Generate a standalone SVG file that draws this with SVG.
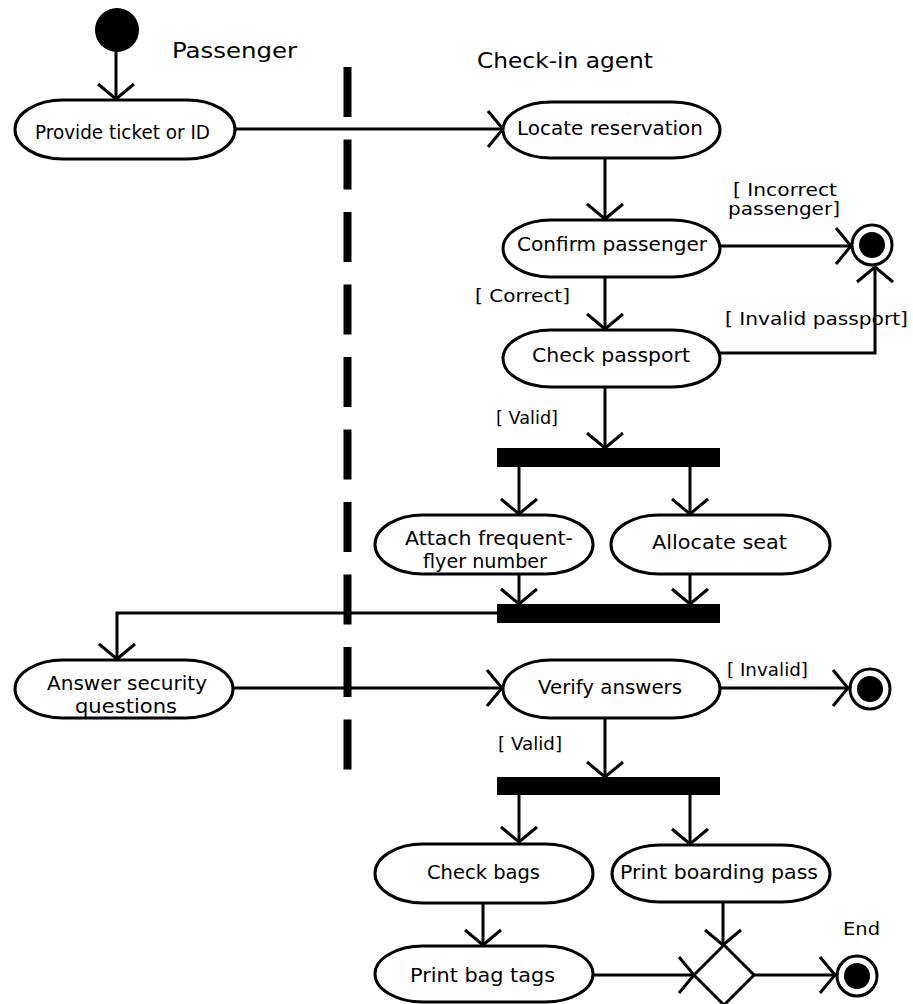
<svg xmlns="http://www.w3.org/2000/svg" width="913" height="1004" viewBox="0 0 913 1004">
<defs>
<style>
.node{fill:#fff;stroke:#000;stroke-width:3}
.t{font-family:"DejaVu Sans","Liberation Sans",sans-serif;font-size:20px;fill:#000}
.g{font-family:"DejaVu Sans","Liberation Sans",sans-serif;font-size:18px;fill:#000}
.h{font-family:"DejaVu Sans","Liberation Sans",sans-serif;font-size:21px;fill:#000}
.c{fill:none;stroke:#000;stroke-width:3;marker-end:url(#arr)}
.bar{fill:#000}
</style>
<marker id="arr" markerUnits="userSpaceOnUse" markerWidth="40" markerHeight="40" viewBox="-20 -20 40 40" refX="0" refY="0" orient="auto">
<path d="M-15,-18 L0,0 L-15,18" fill="none" stroke="#000" stroke-width="3"/>
</marker>
</defs>
<rect width="913" height="1004" fill="#fff"/>

<g id="swimlanes">
<line x1="347.5" y1="67" x2="347.5" y2="770" stroke="#000" stroke-width="8" stroke-dasharray="50 22.5"/>
<text class="h" x="172" y="58" textLength="125" lengthAdjust="spacingAndGlyphs">Passenger</text>
<text class="h" x="477" y="68" textLength="176" lengthAdjust="spacingAndGlyphs">Check-in agent</text>
</g>

<g id="connectors">
<line class="c" x1="116" y1="52" x2="116" y2="99"/>
<line class="c" x1="235" y1="129" x2="503" y2="129"/>
<line class="c" x1="605" y1="158" x2="605" y2="219"/>
<line class="c" x1="720" y1="246" x2="851" y2="246"/>
<line class="c" x1="605" y1="277" x2="605" y2="329"/>
<polyline class="c" points="720,353 875,353 875,267"/>
<line class="c" x1="605" y1="387" x2="605" y2="448"/>
<line class="c" x1="519" y1="467" x2="519" y2="514"/>
<line class="c" x1="690" y1="467" x2="690" y2="514"/>
<line class="c" x1="519" y1="574" x2="519" y2="604"/>
<line class="c" x1="690" y1="574" x2="690" y2="604"/>
<polyline class="c" points="497,613 117,613 117,659"/>
<line class="c" x1="233" y1="688" x2="502" y2="688"/>
<line class="c" x1="720" y1="688" x2="848" y2="688"/>
<line class="c" x1="605" y1="718" x2="605" y2="777"/>
<line class="c" x1="519" y1="795" x2="519" y2="842"/>
<line class="c" x1="690" y1="795" x2="690" y2="844"/>
<line class="c" x1="483" y1="903" x2="483" y2="945"/>
<line class="c" x1="723" y1="902" x2="723" y2="945"/>
<line class="c" x1="592" y1="975" x2="694" y2="975"/>
<line class="c" x1="754" y1="975" x2="835" y2="975"/>
<text class="g" x="733" y="196" textLength="104" lengthAdjust="spacingAndGlyphs">[ Incorrect</text>
<text class="g" x="728" y="215" textLength="112" lengthAdjust="spacingAndGlyphs">passenger]</text>
<text class="g" x="475" y="302" textLength="95" lengthAdjust="spacingAndGlyphs">[ Correct]</text>
<text class="g" x="725" y="325" textLength="183" lengthAdjust="spacingAndGlyphs">[ Invalid passport]</text>
<text class="g" x="496" y="424" textLength="62" lengthAdjust="spacingAndGlyphs">[ Valid]</text>
<text class="g" x="727" y="676" textLength="81" lengthAdjust="spacingAndGlyphs">[ Invalid]</text>
<text class="g" x="498" y="750" textLength="64" lengthAdjust="spacingAndGlyphs">[ Valid]</text>
</g>

<g id="start">
<circle cx="117" cy="30" r="22" fill="#000"/>
</g>

<g id="provide-ticket">
<rect class="node" x="15" y="100" width="220" height="59" rx="48" ry="29.5"/>
<text class="t" x="35" y="139" textLength="175" lengthAdjust="spacingAndGlyphs">Provide ticket or ID</text>
</g>

<g id="locate-reservation">
<rect class="node" x="503" y="102" width="217" height="56" rx="48" ry="28"/>
<text class="t" x="517" y="135" textLength="186" lengthAdjust="spacingAndGlyphs">Locate reservation</text>
</g>

<g id="confirm-passenger">
<rect class="node" x="503" y="220" width="217" height="57" rx="48" ry="28.5"/>
<text class="t" x="517" y="251" textLength="190" lengthAdjust="spacingAndGlyphs">Confirm passenger</text>
</g>

<g id="final-1">
<circle cx="872" cy="245" r="20" fill="#fff" stroke="#000" stroke-width="3"/>
<circle cx="872" cy="245" r="13" fill="#000"/>
</g>

<g id="check-passport">
<rect class="node" x="503" y="330" width="217" height="57" rx="48" ry="28.5"/>
<text class="t" x="532" y="362" textLength="158" lengthAdjust="spacingAndGlyphs">Check passport</text>
</g>

<g id="fork-1">
<rect class="bar" x="497" y="448" width="223" height="19"/>
</g>

<g id="attach-ff">
<rect class="node" x="375" y="515" width="218" height="59" rx="48" ry="29.5"/>
<text class="t" x="405" y="545" textLength="168" lengthAdjust="spacingAndGlyphs">Attach frequent-</text>
<text class="t" x="423" y="568" textLength="124" lengthAdjust="spacingAndGlyphs">flyer number</text>
</g>

<g id="allocate-seat">
<rect class="node" x="611" y="515" width="219" height="59" rx="48" ry="29.5"/>
<text class="t" x="652" y="549" textLength="135" lengthAdjust="spacingAndGlyphs">Allocate seat</text>
</g>

<g id="join-1">
<rect class="bar" x="497" y="604" width="223" height="19"/>
</g>

<g id="answer-security">
<rect class="node" x="15" y="660" width="218" height="58" rx="48" ry="29"/>
<text class="t" x="47" y="690" textLength="160" lengthAdjust="spacingAndGlyphs">Answer security</text>
<text class="t" x="75" y="713" textLength="102" lengthAdjust="spacingAndGlyphs">questions</text>
</g>

<g id="verify-answers">
<rect class="node" x="503" y="660" width="217" height="58" rx="48" ry="29"/>
<text class="t" x="538" y="694" textLength="144" lengthAdjust="spacingAndGlyphs">Verify answers</text>
</g>

<g id="final-2">
<circle cx="870" cy="689" r="20" fill="#fff" stroke="#000" stroke-width="3"/>
<circle cx="870" cy="689" r="13" fill="#000"/>
</g>

<g id="fork-2">
<rect class="bar" x="497" y="777" width="223" height="18"/>
</g>

<g id="check-bags">
<rect class="node" x="375" y="844" width="218" height="59" rx="48" ry="29.5"/>
<text class="t" x="427" y="879" textLength="113" lengthAdjust="spacingAndGlyphs">Check bags</text>
</g>

<g id="print-boarding-pass">
<rect class="node" x="612" y="845" width="218" height="57" rx="48" ry="28.5"/>
<text class="t" x="620" y="879" textLength="198" lengthAdjust="spacingAndGlyphs">Print boarding pass</text>
</g>

<g id="print-bag-tags">
<rect class="node" x="375" y="946" width="218" height="56" rx="48" ry="28"/>
<text class="t" x="410" y="982" textLength="145" lengthAdjust="spacingAndGlyphs">Print bag tags</text>
</g>

<g id="merge">
<polygon points="724,945 754,975 724,1005 694,975" fill="#fff" stroke="#000" stroke-width="3"/>
</g>

<g id="end">
<circle cx="857" cy="976" r="20" fill="#fff" stroke="#000" stroke-width="3"/>
<circle cx="857" cy="976" r="13" fill="#000"/>
<text class="g" x="843" y="935" textLength="37" lengthAdjust="spacingAndGlyphs">End</text>
</g>
</svg>
